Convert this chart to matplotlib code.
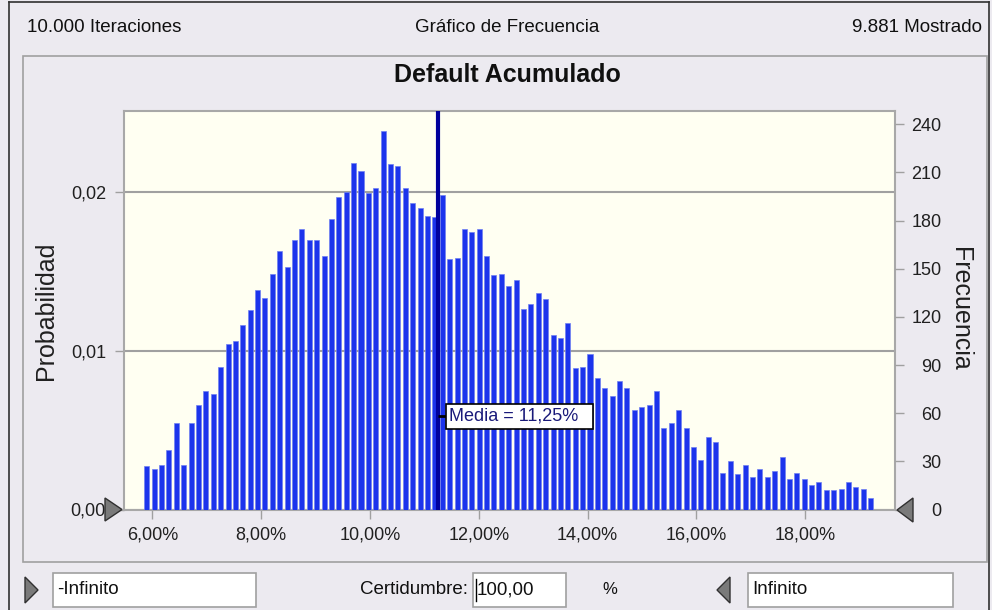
import numpy as np
import matplotlib.pyplot as plt
from matplotlib.patches import Rectangle, Polygon
from matplotlib.lines import Line2D

# frequency of each bin (9.881 values shown)
freq = [27, 25, 28, 37, 54, 28, 54, 65, 74, 72,
        89, 103, 105, 115, 124, 137, 132, 147, 161, 151,
        168, 175, 168, 168, 158, 181, 195, 198, 216, 211,
        197, 200, 236, 215, 214, 200, 191, 188, 183, 182,
        196, 156, 157, 175, 173, 175, 158, 146, 147, 139,
        143, 125, 128, 135, 131, 109, 107, 116, 88, 89,
        97, 82, 76, 71, 80, 76, 62, 64, 65, 74,
        51, 54, 62, 51, 39, 31, 45, 42, 23, 30,
        22, 28, 20, 25, 20, 24, 33, 19, 23, 19,
        15, 17, 12, 12, 13, 17, 14, 13, 7]
bin_first = 5.899   # centre of first bin (%)
bin_last = 19.201   # centre of last bin (%)
n_shown = 9881
n_iter = 10000
mean_value = 11.25
x_ticks = [6, 8, 10, 12, 14, 16, 18]
freq_ticks = [0, 30, 60, 90, 120, 150, 180, 210, 240]
prob_ticks = [0.00, 0.01, 0.02]

W, H = 992, 610
BG = '#ECEAF0'
FONT = ['Liberation Sans', 'DejaVu Sans']
NARROW = ['Liberation Sans Narrow', 'Liberation Sans', 'DejaVu Sans']
plt.rcParams['font.family'] = FONT


def fx(px):
    return px / W


def fy(py):
    return 1 - py / H


fig = plt.figure(figsize=(W / 100, H / 100), dpi=100, facecolor=BG)

# window frame and panel
fig.add_artist(Line2D([fx(9), fx(9)], [fy(2), fy(610)], color='#303030', lw=1.2))
fig.add_artist(Line2D([fx(9), fx(989)], [fy(2), fy(2)], color='#303030', lw=1.2))
fig.add_artist(Line2D([fx(989), fx(989)], [fy(2), fy(610)], color='#303030', lw=1.2))
fig.add_artist(Rectangle((fx(23), fy(562)), fx(987) - fx(23), fy(56) - fy(562),
                         transform=fig.transFigure, fill=False,
                         edgecolor='#A0A0A0', lw=1.2))

# header strip
fig.text(fx(27), fy(27), f'{n_iter:,}'.replace(',', '.') + ' Iteraciones',
         family=NARROW, fontsize=13.5, va='center', ha='left', color='#101010')
fig.text(fx(507), fy(27), 'Gráfico de Frecuencia', family=NARROW, fontsize=13.5,
         va='center', ha='center', color='#101010')
fig.text(fx(982), fy(27), f'{n_shown:,}'.replace(',', '.') + ' Mostrado',
         family=NARROW, fontsize=13.5, va='center', ha='right', color='#101010')

# chart area
left, right, top, bottom = 124, 895, 111, 509.5
ax = fig.add_axes([fx(left), fy(bottom), fx(right) - fx(left), fy(top) - fy(bottom)])
ax.set_facecolor('#FFFFF2')
freq_top = (bottom - top) / 1.605
ax.set_xlim(5.48, 19.648)
ax.set_ylim(0, freq_top / n_shown)

ax.set_yticks(prob_ticks)
ax.set_yticklabels([f'{p:.2f}'.replace('.', ',') for p in prob_ticks])
ax.yaxis.grid(True, color='#A0A0A0', lw=1.5)
ax.set_axisbelow(True)
ax.set_xticks(x_ticks)
ax.set_xticklabels([f'{t:.2f}%'.replace('.', ',') for t in x_ticks])
ax.tick_params(axis='both', direction='out', length=6.5, width=1,
               color='#A0A0A0', labelsize=13, labelcolor='#202020')
ax.tick_params(axis='y', pad=6.5)
ax.tick_params(axis='x', pad=5.5)
for s in ax.spines.values():
    s.set_color('#A8A8A8')
    s.set_linewidth(1.5)

ax2 = ax.twinx()
ax2.set_ylim(0, freq_top)
ax2.set_yticks(freq_ticks)
ax2.tick_params(axis='y', direction='out', length=6.5, width=1,
                color='#A0A0A0', labelsize=13, labelcolor='#202020', pad=27)
for lab in ax2.get_yticklabels():
    lab.set_horizontalalignment('right')
for s in ax2.spines.values():
    s.set_visible(False)

centers = np.linspace(bin_first, bin_last, len(freq))
bw = (bin_last - bin_first) / (len(freq) - 1)
ax2.bar(centers, freq, width=bw * 0.68, color='#1C34EC',
        edgecolor='#7080F2', linewidth=0.5, zorder=3)

# mean marker
ax2.axvline(mean_value, color='#00009C', lw=3, zorder=5)
y_lab = 58
ax2.plot([mean_value, 11.40], [y_lab, y_lab], color='black', lw=2,
         zorder=6, solid_capstyle='butt')
ax2.add_patch(Rectangle((11.397, 50.2), 14.098 - 11.397, 15.5,
                        facecolor='white', edgecolor='black', lw=1.2, zorder=6))
ax2.text(11.45, y_lab, f'Media = {mean_value:.2f}%'.replace('.', ','),
         fontsize=13, color='#1A1A7A', va='center', ha='left', zorder=7)

# axis titles
fig.text(fx(46), fy(311), 'Probabilidad', rotation=90, fontsize=18,
         va='center', ha='center', color='#202020')
fig.text(fx(960), fy(309), 'Frecuencia', rotation=270, fontsize=18,
         va='center', ha='center', color='#202020')
fig.text(fx(507), fy(75), 'Default Acumulado', fontsize=18, weight='bold',
         va='center', ha='center', color='#101010')


def triangle(pts):
    fig.add_artist(Polygon([(fx(a), fy(b)) for a, b in pts], closed=True,
                           transform=fig.transFigure, facecolor='#7A7A7A',
                           edgecolor='#303030', lw=1, zorder=10))


triangle([(105, 498), (105, 521), (122, 509.5)])
triangle([(913, 498), (913, 522), (897, 510)])
triangle([(25, 577), (25, 603), (38, 590)])
triangle([(730, 577), (730, 603), (717, 590)])


def entry(x0, x1, label):
    fig.add_artist(Rectangle((fx(x0), fy(607)), fx(x1) - fx(x0), fy(573) - fy(607),
                             transform=fig.transFigure, facecolor='white',
                             edgecolor='#A0A0A0', lw=1.2))
    fig.text(fx(x0 + 4), fy(590), label, family=NARROW, fontsize=13.5,
             va='center', ha='left', color='#101010')


entry(53, 256, '-Infinito')
entry(473, 566, '100,00')
entry(748, 953, 'Infinito')
fig.add_artist(Line2D([fx(476), fx(476)], [fy(579), fy(601)], color='black', lw=1))
fig.text(fx(468), fy(590), 'Certidumbre:', family=NARROW, fontsize=13.5,
         va='center', ha='right', color='#101010')
fig.text(fx(610), fy(590), '%', family=NARROW, fontsize=12,
         va='center', ha='center', color='#101010')

fig.savefig('out.png', dpi=100, facecolor=BG)
